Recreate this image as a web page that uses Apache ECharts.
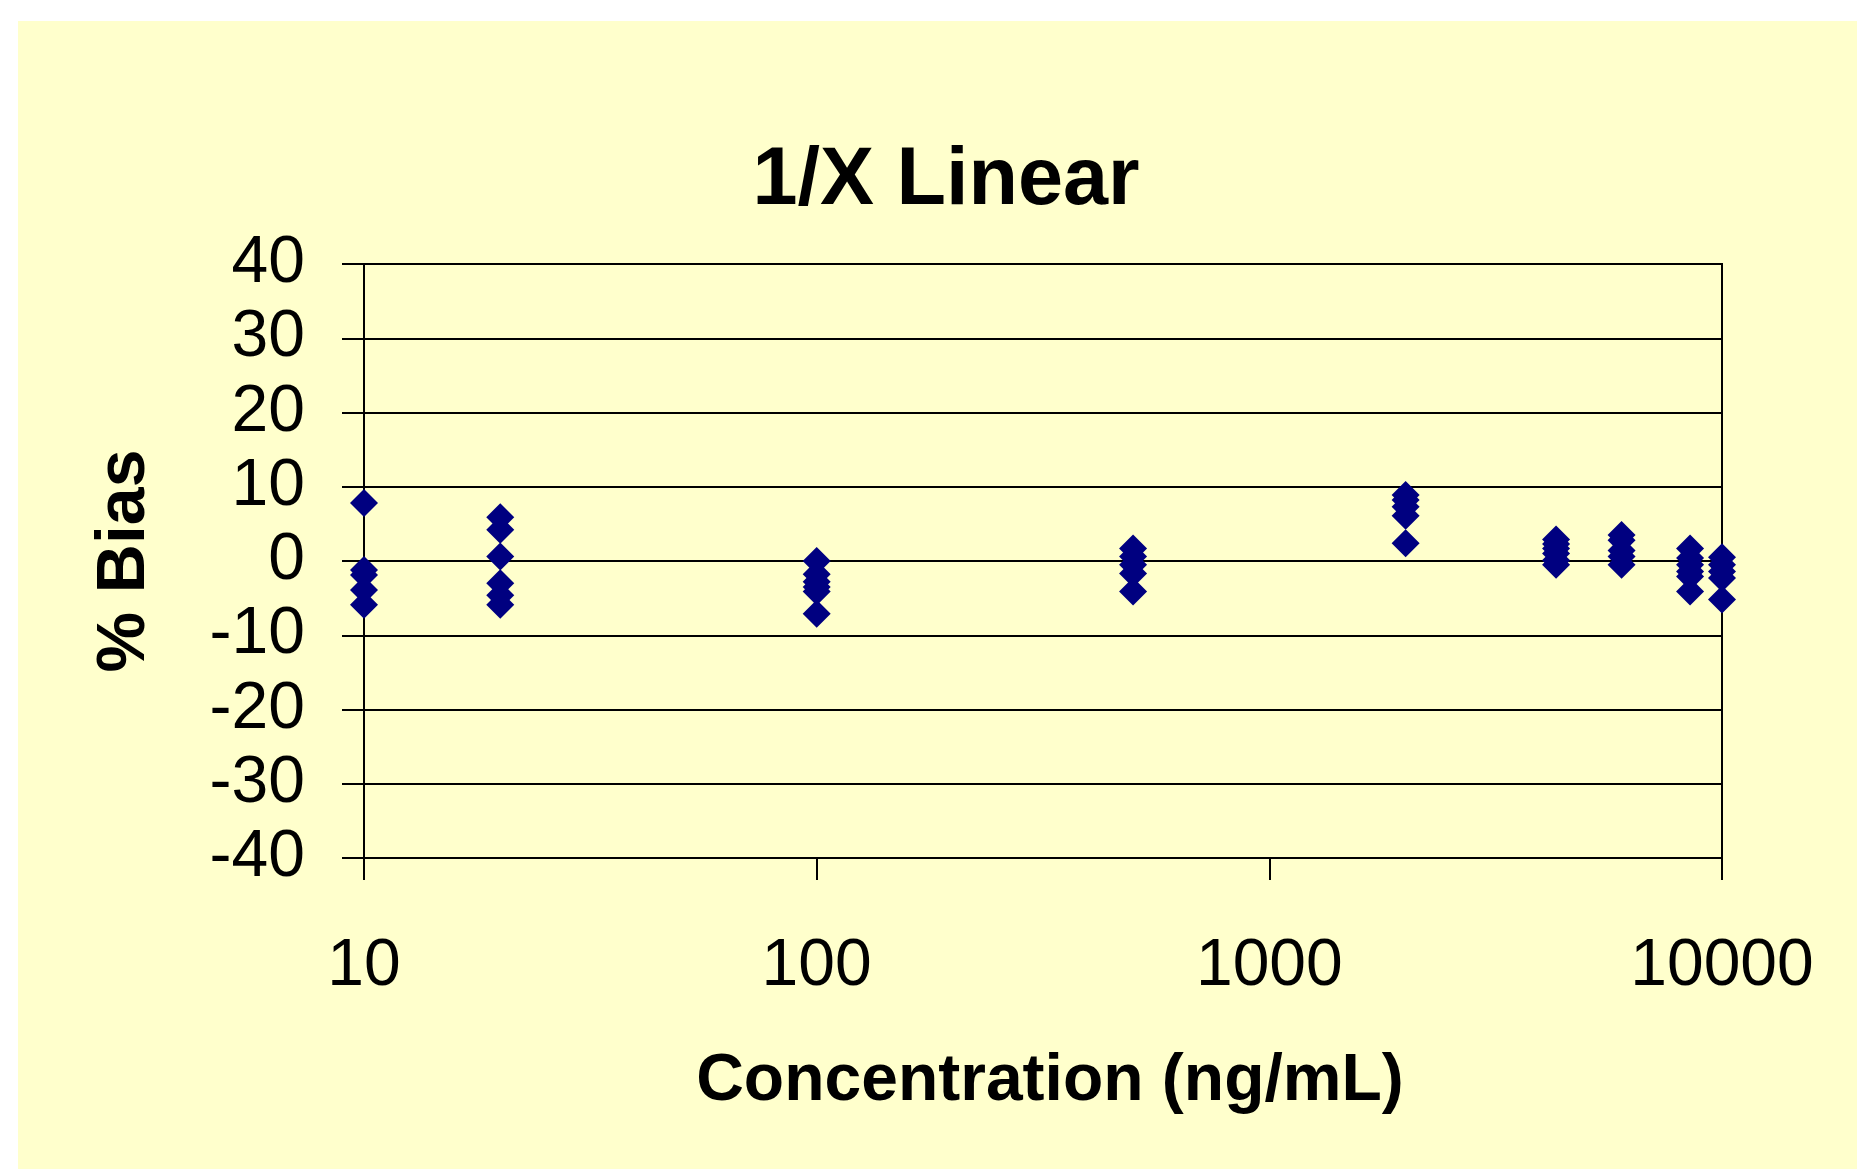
<!DOCTYPE html>
<html>
<head>
<meta charset="utf-8">
<script src="https://cdn.jsdelivr.net/npm/echarts@6/dist/echarts.min.js"></script>
<style>
  html, body { margin: 0; padding: 0; background: #ffffff; }
  #bg { position: absolute; left: 18px; top: 21px; width: 1839px; height: 1148px; background: #FFFFCC; }
  #chart { position: absolute; left: 0; top: 0; width: 1857px; height: 1169px; }
</style>
</head>
<body>
<div id="bg"></div>
<div id="chart"></div>
<script>
// Data
const titleText = '1/X Linear';
const xAxisTitle = 'Concentration (ng/mL)';
const yAxisTitle = '% Bias';
const concentrations = [10, 20, 100, 500, 2000, 4300, 6000, 8500, 10000];
const bias10 = [7.8, -1.2, -1.9, -3.9, -5.9];
const bias20 = [5.9, 4.2, 0.6, -3.0, -4.6, -5.9];
const bias100 = [0.0, -1.8, -2.8, -3.5, -4.1, -7.1];
const bias500 = [1.7, 0.6, -0.5, -1.7, -4.1];
const bias2000 = [8.9, 8.2, 7.3, 6.1, 2.4];
const bias4300 = [2.9, 2.3, 1.7, 1.0, 0.1, -0.5];
const bias6000 = [3.5, 2.8, 1.4, 0.6, -0.5];
const bias8500 = [1.7, 0.4, -0.5, -1.4, -2.1, -4.1];
const bias10000 = [0.5, -0.5, -1.4, -2.3, -5.2];
const yTicks = { min: -40, max: 40, interval: 10 };

const biasGroups = [bias10, bias20, bias100, bias500, bias2000, bias4300, bias6000, bias8500, bias10000];
const points = [];
concentrations.forEach(function (c, i) {
  biasGroups[i].forEach(function (b) { points.push([c, b]); });
});

const FONT = '"Liberation Sans", Arial, sans-serif';
const chart = echarts.init(document.getElementById('chart'), null, { renderer: 'canvas' });
chart.setOption({
  backgroundColor: 'transparent',
  animation: false,
  graphic: [{
    type: 'text',
    x: 946,
    y: 182,
    style: {
      text: titleText,
      font: 'bold 81px ' + FONT,
      fill: '#000000',
      align: 'center',
      verticalAlign: 'middle'
    }
  }],
  grid: {
    left: 364, top: 264, width: 1358, height: 594,
    show: true, borderColor: '#000000', borderWidth: 2, backgroundColor: 'transparent'
  },
  xAxis: {
    type: 'log',
    logBase: 10,
    min: 10,
    max: 10000,
    name: xAxisTitle,
    nameLocation: 'middle',
    nameGap: 191,
    nameTextStyle: { fontFamily: FONT, fontWeight: 'bold', fontSize: 66, color: '#000', padding: [0, 0, 0, 14] },
    axisLine: { show: true, onZero: false, lineStyle: { color: '#000', width: 2 } },
    axisTick: { show: true, inside: false, length: 22, lineStyle: { color: '#000', width: 2 } },
    minorTick: { show: false },
    splitLine: { show: false },
    axisLabel: {
      fontFamily: FONT, fontSize: 66, color: '#000', margin: 76,
      formatter: function (v) { return String(Math.round(v)); }
    }
  },
  yAxis: {
    type: 'value',
    min: yTicks.min,
    max: yTicks.max,
    interval: yTicks.interval,
    name: yAxisTitle,
    nameLocation: 'middle',
    nameGap: 205,
    nameTextStyle: { fontFamily: FONT, fontWeight: 'bold', fontSize: 68, color: '#000' },
    axisLine: { show: true, onZero: false, lineStyle: { color: '#000', width: 2 } },
    axisTick: { show: true, inside: false, length: 22, lineStyle: { color: '#000', width: 2 } },
    splitLine: { show: true, lineStyle: { color: '#000', width: 2 } },
    axisLabel: { fontFamily: FONT, fontSize: 66, color: '#000', margin: 59, padding: [10, 0, 0, 0] }
  },
  series: [{
    type: 'scatter',
    symbol: 'diamond',
    symbolSize: 28,
    itemStyle: { color: '#000080', opacity: 1 },
    data: points
  }]
});
</script>
</body>
</html>
